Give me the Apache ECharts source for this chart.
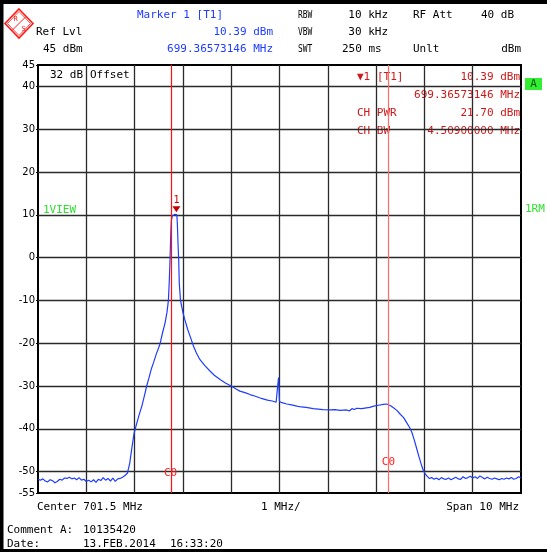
<!DOCTYPE html>
<html>
<head>
<meta charset="utf-8">
<script src="https://cdn.jsdelivr.net/npm/echarts@6/dist/echarts.min.js"></script>
<style>
  html, body { margin: 0; padding: 0; background: #fff; }
  #chart { width: 547px; height: 552px; }
</style>
</head>
<body>
<div id="chart"></div>
<script>
// Sweep settings (MHz)
const centerMHz = 701.5;
const spanMHz = 10;
const startMHz = centerMHz - spanMHz / 2;
const stopMHz = centerMHz + spanMHz / 2;

// Reference level and display range (dBm)
const refLevel = 45;
const bottomLevel = -55;

// Channel power measurement
const chBwMHz = 4.509;
const chPwr = 21.70;

// Marker 1
const markerFreq = 699.36573146;
const markerLevel = 10.39;

// Trace: frequency (MHz) and level (dBm)
const freqMHz = [
  696.50, 696.55, 696.60, 696.65, 696.70, 696.75, 696.80, 696.85, 696.90, 696.95,
  697.00, 697.05, 697.10, 697.15, 697.20, 697.25, 697.30, 697.35, 697.40, 697.45,
  697.50, 697.55, 697.60, 697.65, 697.70, 697.75, 697.80, 697.85, 697.90, 697.95,
  698.00, 698.05, 698.10, 698.15, 698.20, 698.25, 698.30, 698.35, 698.37, 698.40,
  698.43, 698.46, 698.49, 698.55, 698.60, 698.65, 698.70, 698.75, 698.80, 698.85,
  698.89, 698.95, 699.00, 699.03, 699.08, 699.13, 699.17, 699.20, 699.22, 699.235,
  699.25, 699.26, 699.28, 699.30, 699.33, 699.366, 699.375, 699.385, 699.40, 699.413,
  699.425, 699.45, 699.50, 699.54, 699.60, 699.65, 699.72, 699.78, 699.85, 699.95,
  700.06, 700.15, 700.27, 700.38, 700.50, 700.60, 700.68, 700.80, 700.89, 701.00,
  701.10, 701.16, 701.25, 701.35, 701.43, 701.46, 701.48, 701.50, 701.55, 701.65,
  701.75, 701.86, 701.95, 702.05, 702.20, 702.30, 702.40, 702.55, 702.65, 702.75,
  702.89, 702.95, 703.00, 703.05, 703.10, 703.20, 703.30, 703.37, 703.45, 703.55,
  703.65, 703.72, 703.80, 703.86, 703.93, 704.00, 704.07, 704.13, 704.20, 704.24,
  704.29, 704.34, 704.39, 704.44, 704.48, 704.51, 704.55, 704.60, 704.65, 704.70,
  704.75, 704.80, 704.85, 704.90, 704.95, 705.00, 705.05, 705.10, 705.15, 705.20,
  705.25, 705.30, 705.35, 705.40, 705.45, 705.50, 705.55, 705.60, 705.65, 705.70,
  705.75, 705.80, 705.85, 705.90, 705.95, 706.00, 706.05, 706.10, 706.15, 706.20,
  706.25, 706.30, 706.35, 706.40, 706.45, 706.50
];
const levelDbm = [
  -51.8, -52.0, -51.7, -52.2, -52.4, -51.9, -52.1, -52.6, -52.3, -51.8,
  -52.0, -51.5, -51.6, -51.3, -51.7, -51.5, -51.9, -51.4, -52.0, -51.8,
  -52.3, -52.0, -52.4, -51.9, -52.5, -51.8, -52.1, -51.4, -52.0, -51.6,
  -52.2, -51.5, -52.3, -51.7, -51.6, -51.3, -50.9, -50.4, -50.2, -48.0,
  -45.5, -43.2, -41.0, -38.5, -36.5, -34.7, -32.4, -30.0, -28.0, -25.9,
  -24.6, -22.5, -21.0, -20.0, -17.5, -15.3, -12.8, -10.0, -5.0, 0.0,
  6.0, 8.7, 9.7, 10.0, 10.1, 10.39, 10.0, 8.0, 3.0, -0.5,
  -6.0, -10.0, -12.8, -14.5, -16.8, -18.4, -20.7, -22.3, -23.8, -25.2,
  -26.5, -27.5, -28.5, -29.3, -30.0, -30.7, -31.2, -31.6, -32.0, -32.4,
  -32.8, -33.0, -33.3, -33.5, -33.8, -34.2, -28.0, -33.6, -33.9, -34.2,
  -34.4, -34.7, -34.9, -35.0, -35.3, -35.4, -35.5, -35.6, -35.5, -35.7,
  -35.6, -35.8, -35.3, -35.5, -35.2, -35.3, -35.1, -35.0, -34.7, -34.5,
  -34.3, -34.2, -34.6, -35.1, -35.7, -36.6, -37.4, -38.5, -39.8, -40.8,
  -42.6, -44.6, -46.6, -48.5, -49.8, -50.4, -51.0, -51.6, -51.4, -51.8,
  -51.5, -51.9, -51.4, -51.7, -51.8, -51.5, -51.9, -51.6, -51.3, -51.7,
  -51.8, -51.2, -51.6, -51.4, -51.1, -51.5, -51.2, -51.6, -51.0, -51.4,
  -51.7, -51.3, -51.6, -51.8, -51.5, -51.7, -51.9, -51.6, -51.8, -51.5,
  -51.7, -51.4, -51.8, -51.6, -51.2, -51.5
];

// Level axis labels and graticule
const yTickLabels = [45, 40, 30, 20, 10, 0, -10, -20, -30, -40, -50, -55];
const yGridLines = [40, 30, 20, 10, 0, -10, -20, -30, -40, -50];
const xGridLines = [697.5, 698.5, 699.5, 700.5, 701.5, 702.5, 703.5, 704.5, 705.5];

const chLow = centerMHz - chBwMHz / 2;
const chHigh = centerMHz + chBwMHz / 2;

const trace = freqMHz.map((f, i) => [f, levelDbm[i]]);

const MONO = '"DejaVu Sans Mono", monospace';
const BLUE = '#1f3cff';
const DARKRED = '#cc1818';
const GREEN = '#2ee02e';

function txt(x, y, text, color, align, extra) {
  return Object.assign({
    type: 'text', x: x, y: y, silent: true,
    style: { text: text, fill: color || '#000', font: '11px ' + MONO,
             textAlign: align || 'left', textVerticalAlign: 'middle' }
  }, extra || {});
}

function narrow(x, y, text) {
  // condensed setting names in the header
  return txt(x, y, text, '#000', 'left', { scaleX: 0.72, originX: 0 });
}

const chart = echarts.init(document.getElementById('chart'), null, { renderer: 'canvas' });

const graphics = [
  // outer borders
  { type: 'rect', shape: { x: 0, y: 0, width: 547, height: 4 }, style: { fill: '#000' }, silent: true },
  { type: 'rect', shape: { x: 0, y: 0, width: 3.5, height: 552 }, style: { fill: '#000' }, silent: true },
  { type: 'rect', shape: { x: 0, y: 549, width: 547, height: 3 }, style: { fill: '#000' }, silent: true },
  // R&S logo
  { type: 'polygon', shape: { points: [[19, 9], [33, 23.5], [19, 38], [5, 23.5]] },
    style: { fill: 'none', stroke: '#ff1a1a', lineWidth: 1.6 }, silent: true },
  { type: 'polygon', shape: { points: [[19, 11.5], [30.5, 23.5], [19, 35.5], [7.5, 23.5]] },
    style: { fill: 'none', stroke: '#ff1a1a', lineWidth: 0.8 }, silent: true },
  { type: 'line', shape: { x1: 26, y1: 16.5, x2: 12, y2: 30.5 },
    style: { stroke: '#ff1a1a', lineWidth: 1 }, silent: true },
  txt(15.5, 19.5, 'R', '#ff1a1a', 'center', { style: { text: 'R', fill: '#ff1a1a', font: '7px ' + MONO, textAlign: 'center', textVerticalAlign: 'middle' } }),
  txt(23.5, 29, 'S', '#ff1a1a', 'center', { style: { text: 'S', fill: '#ff1a1a', font: '7px ' + MONO, textAlign: 'center', textVerticalAlign: 'middle' } }),
  // header block
  txt(137, 15, 'Marker 1 [T1]', BLUE),
  txt(36, 32, 'Ref Lvl', '#000'),
  txt(273, 32, markerLevel.toFixed(2) + ' dBm', BLUE, 'right'),
  txt(43, 49, refLevel + ' dBm', '#000'),
  txt(273, 49, markerFreq.toFixed(8) + ' MHz', BLUE, 'right'),
  narrow(298, 15, 'RBW'),
  narrow(298, 32, 'VBW'),
  narrow(298, 49, 'SWT'),
  txt(388, 15, '10 kHz', '#000', 'right'),
  txt(388, 32, '30 kHz', '#000', 'right'),
  txt(342, 49, '250 ms', '#000'),
  txt(413, 15, 'RF Att', '#000'),
  txt(514, 15, '40 dB', '#000', 'right'),
  txt(413, 49, 'Unlt', '#000'),
  txt(521, 49, 'dBm', '#000', 'right'),
  // in-plot annotations
  txt(50, 75, '32 dB', '#000'),
  txt(90, 75, 'Offset', '#000'),
  txt(357, 77, '\u25BC1', DARKRED),
  txt(377, 77, '[T1]', DARKRED),
  txt(520, 77, markerLevel.toFixed(2) + ' dBm', DARKRED, 'right'),
  txt(520, 95, markerFreq.toFixed(8) + ' MHz', DARKRED, 'right'),
  txt(357, 113, 'CH PWR', DARKRED),
  txt(520, 113, chPwr.toFixed(2) + ' dBm', DARKRED, 'right'),
  txt(357, 131, 'CH BW', DARKRED),
  txt(520, 131, chBwMHz.toFixed(8) + ' MHz', DARKRED, 'right'),
  txt(43, 210, '1VIEW', GREEN),
  txt(525, 209, '1RM', GREEN),
  { type: 'rect', shape: { x: 525, y: 78, width: 17, height: 12 }, style: { fill: '#33ee33' }, silent: true },
  txt(533.5, 84.5, 'A', '#0a5a0a', 'center'),
  // footer
  txt(37, 507, 'Center ' + centerMHz.toFixed(1) + ' MHz', '#000'),
  txt(261, 507, '1 MHz/', '#000'),
  txt(519, 507, 'Span ' + spanMHz + ' MHz', '#000', 'right'),
  txt(7, 530, 'Comment A:', '#000'),
  txt(83, 530, '10135420', '#000'),
  txt(7, 544, 'Date:', '#000'),
  txt(83, 544, '13.FEB.2014', '#000'),
  txt(170, 544, '16:33:20', '#000')
];

chart.setOption({
  animation: false,
  backgroundColor: '#ffffff',
  grid: {
    left: 38, right: 26, top: 65, bottom: 59,
    show: true, borderColor: '#000', borderWidth: 2, backgroundColor: 'transparent'
  },
  xAxis: {
    type: 'value', min: startMHz, max: stopMHz,
    axisLine: { show: false }, axisTick: { show: false },
    axisLabel: { show: false }, splitLine: { show: false }
  },
  yAxis: {
    type: 'value', min: bottomLevel, max: refLevel, interval: 5,
    axisLine: { show: true, lineStyle: { color: '#000', width: 1.5 } },
    axisTick: { show: true, length: 2, customValues: yTickLabels, lineStyle: { color: '#000' } },
    axisLabel: {
      customValues: yTickLabels, margin: 3,
      color: '#000', fontSize: 10, fontFamily: '"DejaVu Sans", sans-serif'
    },
    splitLine: { show: false }
  },
  graphic: graphics,
  series: [
    {
      // graticule
      type: 'line', data: [], silent: true, z: 1,
      markLine: {
        silent: true, symbol: 'none', z: 1, animation: false,
        label: { show: false },
        lineStyle: { color: '#2a2a2a', width: 1.3, type: 'solid' },
        data: yGridLines.map(v => ({ yAxis: v }))
          .concat(xGridLines.map(v => ({ xAxis: v })))
      }
    },
    {
      type: 'line', data: trace, showSymbol: false, z: 3,
      lineStyle: { color: '#1e3dff', width: 1.2 },
      markLine: {
        silent: true, symbol: 'none', z: 4, animation: false,
        label: { show: false },
        data: [
          { xAxis: chLow, lineStyle: { color: '#ff1010', width: 1.2, type: 'solid' } },
          { xAxis: chHigh, lineStyle: { color: '#ff6a6a', width: 1.2, type: 'solid' } }
        ]
      },
      markPoint: {
        silent: true, z: 5, animation: false,
        data: [
          {
            coord: [markerFreq, markerLevel], symbol: 'triangle', symbolRotate: 180,
            symbolSize: [8, 6], symbolOffset: [0, -4],
            itemStyle: { color: '#c00000' },
            label: { show: true, position: 'top', distance: 1, formatter: '1',
                     color: '#c00000', fontSize: 10, fontFamily: MONO }
          },
          {
            coord: [chLow, -50.4], symbol: 'circle', symbolSize: 0,
            label: { show: true, position: 'inside', formatter: 'C0',
                     color: '#ff2020', fontSize: 11, fontFamily: MONO }
          },
          {
            coord: [chHigh, -47.7], symbol: 'circle', symbolSize: 0,
            label: { show: true, position: 'inside', formatter: 'C0',
                     color: '#ff2020', fontSize: 11, fontFamily: MONO }
          }
        ]
      }
    }
  ]
});
</script>
</body>
</html>
